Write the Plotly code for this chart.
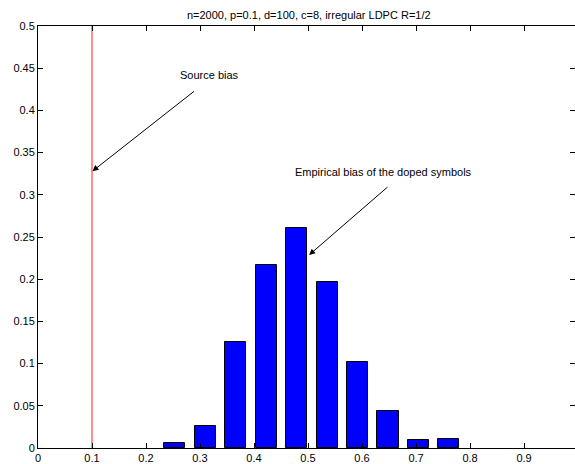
import plotly.graph_objects as go

# Histogram of empirical bias of the doped symbols
bin_centers = [0.2533, 0.3097, 0.3661, 0.4225, 0.4789, 0.5353, 0.5917, 0.6481, 0.7045, 0.7609]
frequencies = [0.0059, 0.026, 0.1258, 0.2169, 0.261, 0.1968, 0.1021, 0.0441, 0.0098, 0.011]
source_bias = 0.1

x_ticks = [0, 0.1, 0.2, 0.3, 0.4, 0.5, 0.6, 0.7, 0.8, 0.9]
y_ticks = [0, 0.05, 0.1, 0.15, 0.2, 0.25, 0.3, 0.35, 0.4, 0.45, 0.5]

FONT = "Liberation Sans, Arial, sans-serif"

fig = go.Figure()

fig.add_trace(go.Bar(
    x=bin_centers,
    y=frequencies,
    width=0.039,
    marker=dict(color="#0000ff", line=dict(color="black", width=1)),
    showlegend=False,
    hoverinfo="x+y",
))

fig.add_trace(go.Scatter(
    x=[source_bias, source_bias],
    y=[0, 0.5],
    mode="lines",
    line=dict(color="#ff2020", width=1),
    showlegend=False,
    hoverinfo="skip",
))

# Arrows (empty text) and separate labels
fig.add_annotation(
    x=0.1008, y=0.328, ax=0.2917, ay=0.424,
    xref="x", yref="y", axref="x", ayref="y",
    text="", showarrow=True, arrowhead=2, arrowsize=1.2, arrowwidth=1,
    arrowcolor="black",
)
fig.add_annotation(
    x=0.2594, y=0.4417, xref="x", yref="y",
    text="Source bias", showarrow=False, xanchor="left", yanchor="middle",
    font=dict(family=FONT, size=11, color="black"),
)
fig.add_annotation(
    x=0.502, y=0.2287, ax=0.650, ay=0.3107,
    xref="x", yref="y", axref="x", ayref="y",
    text="", showarrow=True, arrowhead=2, arrowsize=1.2, arrowwidth=1,
    arrowcolor="black",
)
fig.add_annotation(
    x=0.4714, y=0.3273, xref="x", yref="y",
    text="Empirical bias of the doped symbols", showarrow=False,
    xanchor="left", yanchor="middle",
    font=dict(family=FONT, size=11, color="black"),
)

fig.update_layout(
    width=575,
    height=464,
    margin=dict(l=38, r=0, t=26, b=16),
    paper_bgcolor="white",
    plot_bgcolor="white",
    font=dict(family=FONT, size=11, color="black"),
    title=dict(
        text="n=2000, p=0.1, d=100, c=8, irregular LDPC R=1/2",
        x=0.537, xanchor="center", y=1 - 15 / 464, yanchor="middle",
        font=dict(family=FONT, size=11, color="black"),
    ),
    bargap=0,
)

fig.update_xaxes(
    range=[0, 0.9944],
    tickvals=x_ticks,
    ticktext=[f"{v:g}" for v in x_ticks],
    ticks="inside", ticklen=5, tickcolor="black",
    showline=True, linecolor="black", linewidth=1, mirror="ticks",
    showgrid=False, zeroline=False,
    tickfont=dict(family=FONT, size=11, color="black"),
)
fig.update_yaxes(
    range=[0, 0.5],
    tickvals=y_ticks,
    ticktext=[f"{v:g}" for v in y_ticks],
    ticks="inside", ticklen=5, tickcolor="black",
    showline=True, linecolor="black", linewidth=1, mirror="ticks",
    showgrid=False, zeroline=False,
    tickfont=dict(family=FONT, size=11, color="black"),
)

fig.write_html("out.html")
